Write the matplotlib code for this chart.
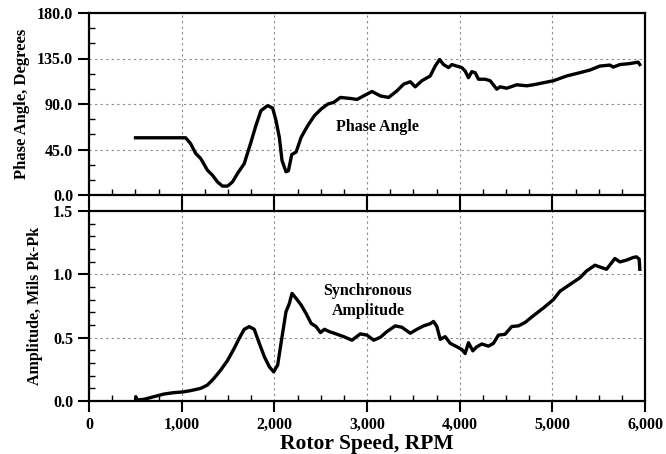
import matplotlib
matplotlib.use("Agg")
import matplotlib.pyplot as plt
from matplotlib.ticker import MultipleLocator, FuncFormatter

plt.rcParams['font.family'] = ['Liberation Serif', 'DejaVu Serif']
plt.rcParams['font.weight'] = 'bold'

# Phase angle data (RPM, degrees)
phase_rpm = [502, 1043, 1097, 1152, 1206, 1278, 1332, 1386, 1440, 1495, 1549, 1603,
             1675, 1747, 1801, 1856, 1928, 1982, 2018, 2054, 2083, 2126, 2152, 2188,
             2235, 2289, 2361, 2433, 2505, 2578, 2641, 2713, 2820, 2892, 3000, 3054,
             3144, 3233, 3323, 3395, 3467, 3520, 3592, 3682, 3736, 3783, 3826, 3880,
             3916, 3970, 4023, 4059, 4095, 4131, 4167, 4203, 4275, 4329, 4400, 4436,
             4508, 4616, 4724, 4795, 4903, 5011, 5154, 5298, 5406, 5513, 5621, 5657,
             5729, 5837, 5926, 5944]
phase_deg = [56.6, 56.6, 50.7, 41, 36, 24.5, 19.6, 13, 8.8, 8.8, 13, 21.3,
             31, 52, 68.7, 83.5, 88.4, 86, 73.6, 57, 34, 23, 24, 40,
             42.5, 57, 68.7, 78.5, 85, 90, 91.6, 96.5, 95.5, 94.5, 99.8, 102.4,
             98, 96.5, 103, 109.6, 112, 107, 113, 117.7, 127.5, 134, 129, 126,
             129, 127.5, 126, 122.6, 116, 122, 121, 114.5, 114.5, 113, 104.7, 107,
             105.6, 109, 108, 109, 111, 113, 117.7, 121, 123.6, 127.5, 128.5, 126.5,
             129, 130, 131.4, 129]

# Synchronous amplitude data (RPM, mils pk-pk)
amp_rpm = [502, 505, 510, 592, 700, 809, 917, 1007, 1097, 1206, 1278, 1350, 1422,
           1495, 1567, 1621, 1675, 1729, 1783, 1838, 1892, 1946, 1993, 2036, 2072,
           2126, 2162, 2191, 2235, 2289, 2343, 2397, 2451, 2498, 2541, 2596, 2650,
           2749, 2838, 2928, 3000, 3072, 3144, 3215, 3305, 3377, 3467, 3539, 3610,
           3682, 3718, 3754, 3790, 3844, 3898, 3970, 4023, 4059, 4095, 4142, 4185,
           4239, 4311, 4364, 4418, 4490, 4562, 4634, 4706, 4795, 4903, 5011, 5083,
           5190, 5298, 5370, 5460, 5513, 5585, 5675, 5729, 5800, 5872, 5908, 5937,
           5944]
amp_val = [0.0, 0.034, 0.008, 0.013, 0.034, 0.055, 0.066, 0.071, 0.082, 0.1, 0.126,
           0.18, 0.245, 0.32, 0.416, 0.495, 0.566, 0.587, 0.566, 0.455, 0.35, 0.27,
           0.23, 0.284, 0.455, 0.705, 0.77, 0.85, 0.81, 0.758, 0.69, 0.613, 0.587,
           0.54, 0.566, 0.547, 0.534, 0.508, 0.48, 0.53, 0.52, 0.48, 0.503, 0.548,
           0.593, 0.582, 0.535, 0.566, 0.593, 0.61, 0.628, 0.588, 0.487, 0.508,
           0.455, 0.428, 0.407, 0.375, 0.46, 0.396, 0.428, 0.45, 0.433, 0.455,
           0.52, 0.527, 0.588, 0.593, 0.62, 0.673, 0.734, 0.8, 0.867, 0.92, 0.973,
           1.027, 1.072, 1.058, 1.04, 1.125, 1.098, 1.112, 1.133, 1.138, 1.12, 1.04]

x_ticks = [0, 1000, 2000, 3000, 4000, 5000, 6000]
phase_ticks = [0.0, 45.0, 90.0, 135.0, 180.0]
amp_ticks = [0.0, 0.5, 1.0, 1.5]

W, H = 666, 454
fig = plt.figure(figsize=(W / 100, H / 100), dpi=100)
ax1 = fig.add_axes([89 / W, (H - 195) / H, (645 - 89) / W, 182 / H])
ax2 = fig.add_axes([89 / W, (H - 401) / H, (645 - 89) / W, 190 / H])

def style(ax, yticks, ymax, yminor, yfmt):
    ax.set_xlim(0, 6000)
    ax.set_ylim(0, ymax)
    ax.set_xticks(x_ticks)
    ax.set_yticks(yticks)
    ax.xaxis.set_minor_locator(MultipleLocator(250))
    ax.yaxis.set_minor_locator(MultipleLocator(yminor))
    ax.yaxis.set_major_formatter(FuncFormatter(lambda v, p: yfmt.format(v)))
    ax.xaxis.set_major_formatter(FuncFormatter(lambda v, p: f"{int(v):,}"))
    ax.tick_params(axis='both', which='major', direction='out', length=8, width=1.5,
                   labelsize=11.5)
    ax.tick_params(axis='both', which='minor', direction='in', length=4, width=1.0)
    for s in ax.spines.values():
        s.set_linewidth(1.6)
    for v in yticks[1:-1]:
        ax.axhline(v, color='#888888', lw=0.8, ls=(0, (2, 3)), zorder=0)
    for v in x_ticks[1:-1]:
        ax.axvline(v, color='#888888', lw=0.8, ls=(0, (2, 3)), zorder=0)
    for lab in ax.get_xticklabels() + ax.get_yticklabels():
        lab.set_fontweight('bold')

style(ax1, phase_ticks, 180, 15, "{:.1f}")
style(ax2, amp_ticks, 1.5, 0.1, "{:.1f}")

ax1.tick_params(axis='x', labelbottom=False)
ax2.tick_params(axis='x', which='major', top=True, labeltop=False)

ax1.plot(phase_rpm, phase_deg, color='black', lw=2.4, solid_joinstyle='round')
ax2.plot(amp_rpm, amp_val, color='black', lw=2.4, solid_joinstyle='round')

ax1.text(2670, 67, "Phase Angle", fontsize=11.5, fontweight='bold', ha='left', va='center')
ax2.text(3010, 0.79, "Synchronous\nAmplitude", fontsize=11.5, fontweight='bold',
         ha='center', va='center', linespacing=1.3)

ax1.set_ylabel("Phase Angle, Degrees", fontsize=12, fontweight='bold')
ax2.set_ylabel("Amplitude, Mils Pk-Pk", fontsize=11.5, fontweight='bold')
ax1.yaxis.set_label_coords(-0.107, 0.5)
ax2.yaxis.set_label_coords(-0.083, 0.5)
ax2.set_xlabel("Rotor Speed, RPM", fontsize=15.5, fontweight='bold', labelpad=1)

fig.savefig("out.png", dpi=100)
